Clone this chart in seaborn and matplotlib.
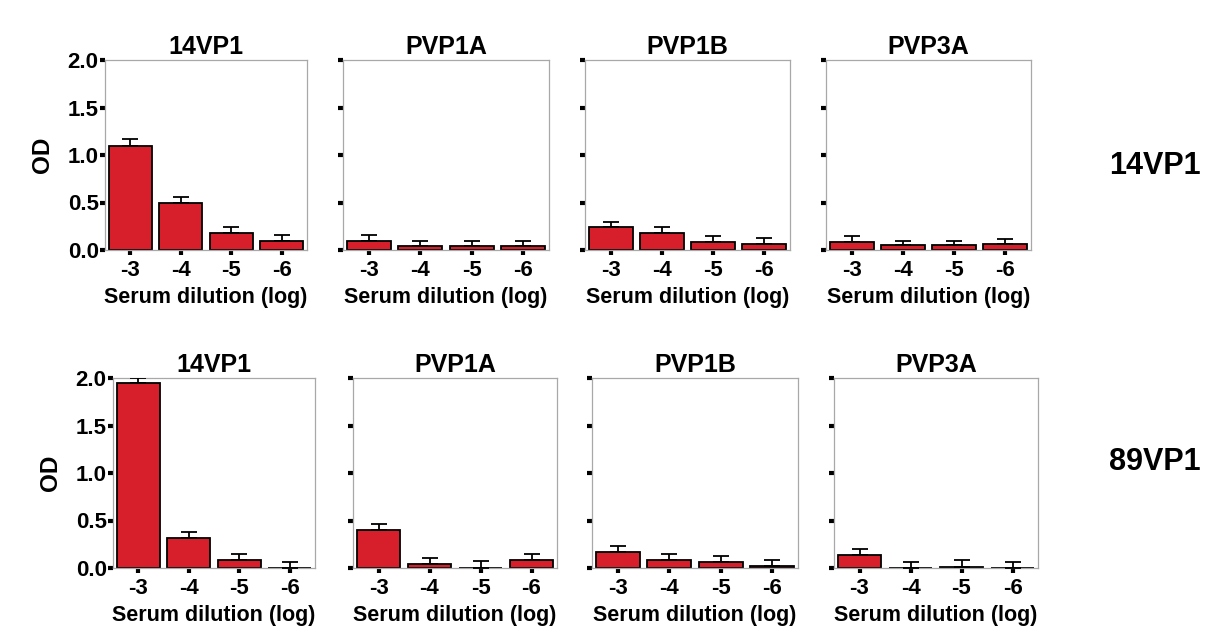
import matplotlib
matplotlib.use("Agg")
import matplotlib.pyplot as plt
import seaborn as sns
import numpy as np
import pandas as pd

sns.set_theme(style="white")
plt.rcParams['font.family'] = ['Liberation Sans', 'DejaVu Sans']
plt.rcParams['text.color'] = 'black'
plt.rcParams['axes.labelcolor'] = 'black'
plt.rcParams['xtick.color'] = 'black'
plt.rcParams['ytick.color'] = 'black'

dilutions = ["-3", "-4", "-5", "-6"]
antigens = ["14VP1", "PVP1A", "PVP1B", "PVP3A"]
sera = ["14VP1", "89VP1"]

# mean OD values, serum 14VP1
od_14vp1_14vp1 = [1.10, 0.50, 0.18, 0.10]
od_14vp1_pvp1a = [0.10, 0.04, 0.04, 0.04]
od_14vp1_pvp1b = [0.24, 0.18, 0.085, 0.065]
od_14vp1_pvp3a = [0.085, 0.05, 0.05, 0.065]
# upper error (SD) serum 14VP1
err_14vp1_14vp1 = [0.065, 0.06, 0.065, 0.06]
err_14vp1_pvp1a = [0.06, 0.06, 0.06, 0.06]
err_14vp1_pvp1b = [0.06, 0.06, 0.06, 0.06]
err_14vp1_pvp3a = [0.065, 0.05, 0.05, 0.055]

# mean OD values, serum 89VP1
od_89vp1_14vp1 = [1.95, 0.32, 0.085, 0.0]
od_89vp1_pvp1a = [0.40, 0.045, 0.0, 0.087]
od_89vp1_pvp1b = [0.165, 0.087, 0.066, 0.024]
od_89vp1_pvp3a = [0.14, 0.005, 0.015, 0.005]
# upper error (SD) serum 89VP1
err_89vp1_14vp1 = [0.05, 0.06, 0.06, 0.066]
err_89vp1_pvp1a = [0.06, 0.06, 0.07, 0.06]
err_89vp1_pvp1b = [0.065, 0.063, 0.064, 0.06]
err_89vp1_pvp3a = [0.06, 0.062, 0.072, 0.062]

means = [[od_14vp1_14vp1, od_14vp1_pvp1a, od_14vp1_pvp1b, od_14vp1_pvp3a],
         [od_89vp1_14vp1, od_89vp1_pvp1a, od_89vp1_pvp1b, od_89vp1_pvp3a]]
errs = [[err_14vp1_14vp1, err_14vp1_pvp1a, err_14vp1_pvp1b, err_14vp1_pvp3a],
        [err_89vp1_14vp1, err_89vp1_pvp1a, err_89vp1_pvp1b, err_89vp1_pvp3a]]

W, H = 1215, 641
fig = plt.figure(figsize=(W / 100, H / 100), dpi=100)
fig.patch.set_facecolor("white")

# axes boxes in pixels: (left, right) per column, (top, bottom) per row
cols = [[(105, 307), (343, 549), (585, 790), (826, 1031)],
        [(113, 315), (353, 557), (592, 798), (834, 1038)]]
rows = [(60, 250), (378, 568)]
row_label_y = [166, 462]

red = "#d61f2b"
for r in range(2):
    top, bot = rows[r]
    for c in range(4):
        l, rr = cols[r][c]
        ax = fig.add_axes([l / W, (H - bot) / H, (rr - l) / W, (bot - top) / H])
        df = pd.DataFrame({"dil": dilutions, "od": means[r][c]})
        sns.barplot(data=df, x="dil", y="od", color=red, saturation=1,
                    edgecolor="black", linewidth=1.3, width=0.86,
                    errorbar=None, ax=ax, zorder=2)
        yerr = [np.zeros(4), np.array(errs[r][c])]
        ax.errorbar(np.arange(4), means[r][c], yerr=yerr, fmt="none",
                    ecolor="black", elinewidth=1.3, capsize=6, capthick=1.3,
                    zorder=3)
        ax.set_ylim(0, 2.0)
        ax.set_xlim(-0.5, 3.5)
        ax.set_yticks([0, 0.5, 1.0, 1.5, 2.0])
        ax.set_facecolor("white")
        for s in ax.spines.values():
            s.set_color("#a8a8a8")
            s.set_linewidth(0.9)
            s.set_visible(True)
        ax.tick_params(axis="both", direction="out", length=3.5, width=3,
                       color="black", bottom=True, left=True)
        ax.tick_params(axis="x", labelsize=16, pad=4)
        ax.tick_params(axis="y", labelsize=16, pad=1)
        for t in ax.get_xticklabels():
            t.set_fontweight("bold")
        if c == 0:
            ax.set_yticklabels(["0.0", "0.5", "1.0", "1.5", "2.0"], fontweight="bold")
            ax.set_ylabel("OD", fontsize=17.5, fontweight="bold", labelpad=10)
        else:
            ax.set_yticklabels([])
            ax.set_ylabel("")
        ax.set_xlabel("Serum dilution (log)", fontsize=15.5, fontweight="bold", labelpad=4)
        ax.set_title(antigens[c], fontsize=18, fontweight="bold", pad=4)
    fig.text(1155 / W, 1 - row_label_y[r] / H, sera[r], fontsize=22,
             fontweight="bold", ha="center", va="center")

fig.savefig("out.png", dpi=100, facecolor="white")
